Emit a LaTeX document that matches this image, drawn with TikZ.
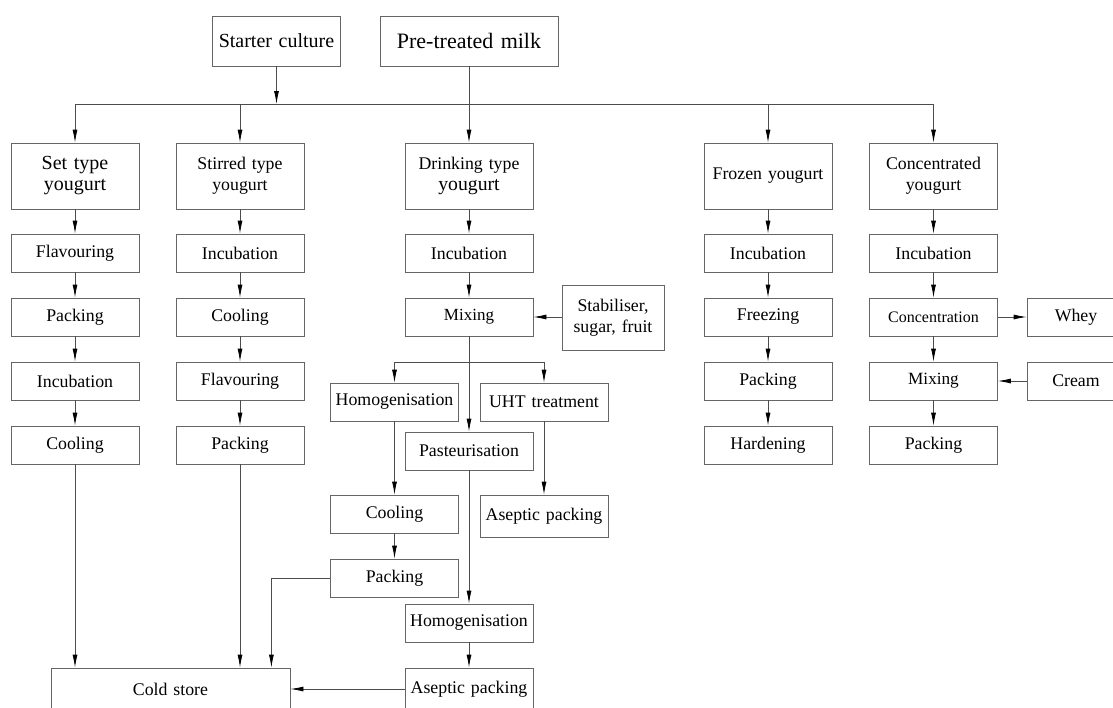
\documentclass[tikz,border=0pt]{standalone}
\usepackage{fontspec}
\setmainfont{Liberation Serif}
\usetikzlibrary{arrows.meta}
\tikzstyle{boxes} = [rectangle, minimum width=128pt, minimum height=38pt, text centered, text
width=124pt, inner sep=2pt, draw=black!60, line width=0.8pt, font=\fontsize{17.8}{21}\selectfont]
\tikzstyle{tboxes} = [boxes, minimum height=66pt]
\tikzstyle{line} = [draw=black!70, line width=0.8pt]
\tikzstyle{arrow} = [line, ->, >={Latex[length=13pt,width=5pt,color=black]}]

\begin{document}
\begin{tikzpicture}[x=1pt, y=-1pt]
        \useasboundingbox (0,0) rectangle (1113,707);
        \clip (0,0) rectangle (1113,707);

        % Inputs
        \node[boxes, minimum width=127pt, minimum height=50pt, font=\fontsize{20}{22}\selectfont] (starter) at (276.5,41) {Starter culture};
        \node[boxes, minimum width=178pt, text width=172pt, minimum height=50pt, font=\fontsize{22}{24}\selectfont] (milk) at (469,41) {Pre-treated milk};
        \coordinate (busL) at (75,104);
        \coordinate (busR) at (933.5,104);

        % Yougurt types
        \node[tboxes, font=\fontsize{20}{21}\selectfont] (set) at (75,176) {Set type\\yougurt};
        \node[tboxes] (stir) at (240,176) {Stirred type\\yougurt};
        \node[tboxes] (drink) at (469,176) {Drinking type\\{\fontsize{19.7}{21}\selectfont yougurt}};
        \node[tboxes] (frozen) at (768,176) {Frozen yougurt};
        \node[tboxes, minimum width=127pt] (conc) at (933.5,176) {Concentrated\\yougurt};

        % Set type
        \node[boxes] (sflav) at (75,253) {Flavouring};
        \node[boxes] (spack) at (75,317) {Packing};
        \node[boxes] (sincub) at (75,381) {Incubation};
        \node[boxes] (scool) at (75,445) {Cooling};

        % Stirred type
        \node[boxes] (tincub) at (240,253) {Incubation};
        \node[boxes] (tcool) at (240,317) {Cooling};
        \node[boxes] (tflav) at (240,381) {Flavouring};
        \node[boxes] (tpack) at (240,445) {Packing};

        % Drinking type
        \node[boxes] (dincub) at (469,253) {Incubation};
        \node[boxes, font=\fontsize{17}{20}\selectfont] (dmix) at (469,317) {Mixing};
        \node[boxes, minimum width=102pt, text width=98pt, minimum height=65pt] (stab) at (613,317.5) {Stabiliser,\\sugar, fruit};
        \coordinate (brL) at (394.5,362);
        \coordinate (brR) at (544,362);
        \node[boxes, minimum width=127pt] (homA) at (394.5,402) {Homogenisation};
        \node[boxes] (uht) at (544,402) {UHT treatment};
        \node[boxes] (past) at (469,451) {Pasteurisation};
        \node[boxes, minimum width=127pt] (coolD) at (394.5,514) {Cooling};
        \node[boxes, minimum height=42pt] (asepA) at (544,516) {Aseptic packing};
        \node[boxes, minimum width=127pt] (packD) at (394.5,578) {Packing};
        \node[boxes] (homB) at (469,623) {Homogenisation};
        \node[boxes, minimum height=42pt] (asepB) at (469,689) {Aseptic packing};
        \node[boxes, minimum width=239pt, text width=230pt, minimum height=42pt] (cold) at (170.5,689) {Cold store};

        % Frozen
        \node[boxes] (fincub) at (768,253) {Incubation};
        \node[boxes] (ffreeze) at (768,317) {Freezing};
        \node[boxes] (fpack) at (768,381) {Packing};
        \node[boxes] (fhard) at (768,445) {Hardening};

        % Concentrated
        \node[boxes, minimum width=127pt] (cincub) at (933.5,253) {Incubation};
        \node[boxes, minimum width=127pt, font=\fontsize{16}{19}\selectfont] (cconc) at (933.5,317) {Concentration};
        \node[boxes, minimum width=127pt, font=\fontsize{17.2}{20}\selectfont] (cmix) at (933.5,381) {Mixing};
        \node[boxes, minimum width=127pt] (cpack) at (933.5,445) {Packing};
        \node[boxes, minimum width=98pt, text width=92pt] (whey) at (1076,317) {Whey};
        \node[boxes, minimum width=98pt, text width=92pt] (cream) at (1076,381) {Cream};

        % Arrows
        \draw[line] (busL) -- (busR);
        \draw[arrow] (starter.south) -- (starter.south |- busL);
        \draw[arrow] (milk.south) -- (drink.north);
        \foreach \t in {set, stir, frozen, conc}
            \draw[arrow] (\t.north |- busL) -- (\t.north);

        \foreach \a/\b in {set/sflav, sflav/spack, spack/sincub, sincub/scool,
                stir/tincub, tincub/tcool, tcool/tflav, tflav/tpack,
                drink/dincub, dincub/dmix, dmix/past, homA/coolD, coolD/packD,
                uht/asepA, past/homB, homB/asepB,
                frozen/fincub, fincub/ffreeze, ffreeze/fpack, fpack/fhard,
                conc/cincub, cincub/cconc, cconc/cmix, cmix/cpack}
            \draw[arrow] (\a) -- (\b);

        \draw[arrow] (stab.west |- dmix.east) -- (dmix.east);
        \draw[line] (brL) -- (brR);
        \draw[arrow] (brL) -- (homA);
        \draw[arrow] (brR) -- (uht);
        \draw[arrow] (cconc) -- (whey);
        \draw[arrow] (cream) -- (cmix);

        \draw[arrow] (scool.south) -- (scool.south |- cold.north);
        \draw[arrow] (tpack.south) -- (tpack.south |- cold.north);
        \draw[arrow] (packD.west) -| ([xshift=-19pt]cold.north east);
        \draw[arrow] (asepB.west) -- (asepB.west -| cold.east);
    \end{tikzpicture}
\end{document}
